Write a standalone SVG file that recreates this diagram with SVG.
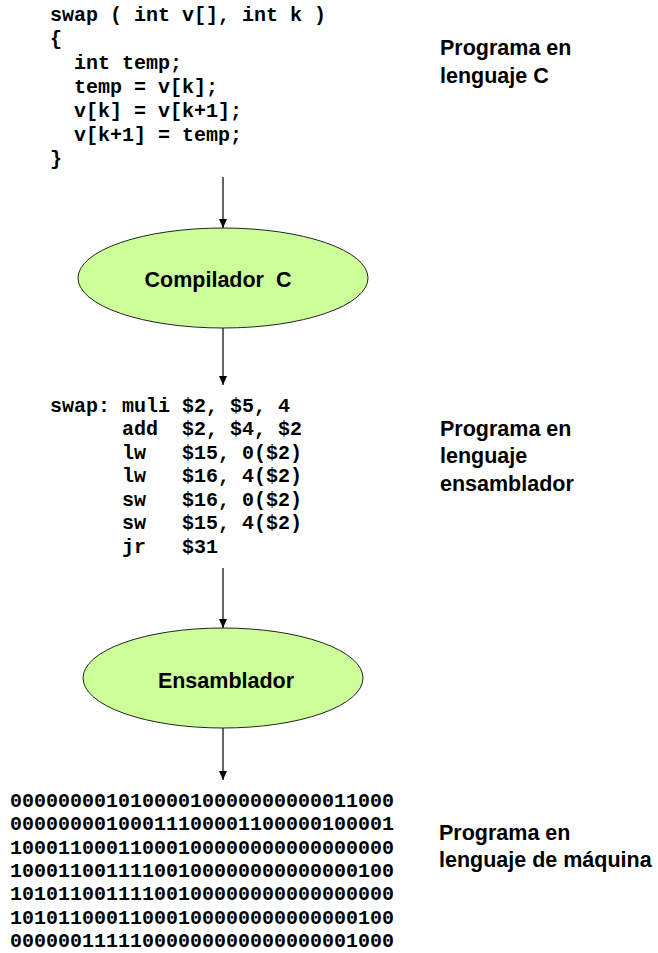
<svg xmlns="http://www.w3.org/2000/svg" width="658" height="953" viewBox="0 0 658 953">
<defs>
<marker id="ah" markerWidth="10" markerHeight="10" refX="9" refY="5" orient="auto" markerUnits="userSpaceOnUse">
<path d="M0,1 L9,5 L0,9 Z" fill="#000"/>
</marker>
<style>
.code{font-family:"Liberation Mono","Courier New",monospace;font-weight:bold;font-size:20px;fill:#000;}
.lbl{font-family:"Liberation Sans",Arial,sans-serif;font-weight:bold;font-size:21.5px;fill:#000;}
.node{fill:#ccff99;stroke:#222;stroke-width:1;}
.conn{stroke:#000;stroke-width:1.2;fill:none;marker-end:url(#ah);}
</style>
</defs>
<rect width="658" height="953" fill="#fff"/>
<g id="c-code">
<text class="code" x="50" y="21" xml:space="preserve">swap ( int v[], int k )</text>
<text class="code" x="50" y="45">{</text>
<text class="code" x="74" y="69">int temp;</text>
<text class="code" x="74" y="93">temp = v[k];</text>
<text class="code" x="74" y="117">v[k] = v[k+1];</text>
<text class="code" x="74" y="141">v[k+1] = temp;</text>
<text class="code" x="50" y="165">}</text>
</g>
<g id="label-c">
<text class="lbl" x="440" y="55">Programa en</text>
<text class="lbl" x="440" y="83">lenguaje C</text>
</g>
<g id="compilador">
<ellipse class="node" cx="223" cy="278" rx="145" ry="50"/>
<text class="lbl" x="218" y="287" text-anchor="middle" xml:space="preserve">Compilador  C</text>
</g>
<g id="asm-code">
<text class="code" y="412"><tspan x="50">swap:</tspan><tspan x="122">muli</tspan><tspan x="182">$2, $5, 4</tspan></text>
<text class="code" y="435"><tspan x="122">add</tspan><tspan x="182">$2, $4, $2</tspan></text>
<text class="code" y="459"><tspan x="122">lw</tspan><tspan x="182">$15, 0($2)</tspan></text>
<text class="code" y="482"><tspan x="122">lw</tspan><tspan x="182">$16, 4($2)</tspan></text>
<text class="code" y="506"><tspan x="122">sw</tspan><tspan x="182">$16, 0($2)</tspan></text>
<text class="code" y="529"><tspan x="122">sw</tspan><tspan x="182">$15, 4($2)</tspan></text>
<text class="code" y="553"><tspan x="122">jr</tspan><tspan x="182">$31</tspan></text>
</g>
<g id="label-asm">
<text class="lbl" x="440" y="436">Programa en</text>
<text class="lbl" x="440" y="463">lenguaje</text>
<text class="lbl" x="440" y="491">ensamblador</text>
</g>
<g id="ensamblador">
<ellipse class="node" cx="223" cy="678" rx="140" ry="50"/>
<text class="lbl" x="226" y="688" text-anchor="middle">Ensamblador</text>
</g>
<g id="machine-code">
<text class="code" x="10" y="807">00000000101000010000000000011000</text>
<text class="code" x="10" y="830">00000000100011100001100000100001</text>
<text class="code" x="10" y="854">10001100011000100000000000000000</text>
<text class="code" x="10" y="877">10001100111100100000000000000100</text>
<text class="code" x="10" y="900">10101100111100100000000000000000</text>
<text class="code" x="10" y="924">10101100011000100000000000000100</text>
<text class="code" x="10" y="947">00000011111000000000000000001000</text>
</g>
<g id="label-machine">
<text class="lbl" x="439" y="840">Programa en</text>
<text class="lbl" x="439" y="867">lenguaje de máquina</text>
</g>
<g id="connectors">
<line class="conn" x1="223" y1="177" x2="223" y2="228"/>
<line class="conn" x1="223" y1="328" x2="223" y2="385"/>
<line class="conn" x1="223" y1="568" x2="223" y2="628"/>
<line class="conn" x1="223" y1="728" x2="223" y2="780"/>
</g>
</svg>
